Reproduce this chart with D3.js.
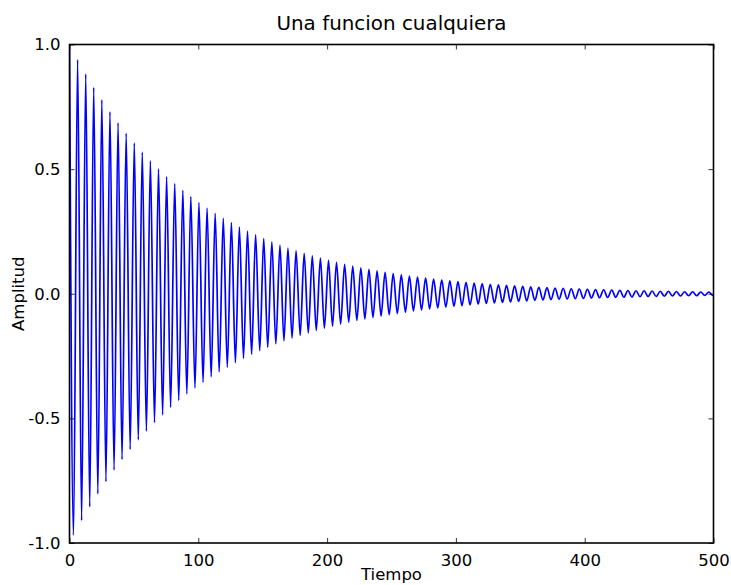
<!DOCTYPE html>
<html>
<head>
<meta charset="utf-8">
<script src="https://cdn.jsdelivr.net/npm/d3@7"></script>
<style>
  html, body { margin: 0; padding: 0; background: #fff; }
  svg text { font-family: "DejaVu Sans", sans-serif; fill: #000; }
</style>
</head>
<body>
<svg id="chart" width="731" height="585"></svg>
<script>
// Local extrema of the damped oscillation: time and amplitude of each peak / trough
const extremaTime = [
  0, 3.1, 6.3, 9.4, 12.6, 15.7, 18.8, 22.0, 25.1, 28.3,
  31.4, 34.6, 37.7, 40.8, 44.0, 47.1, 50.3, 53.4, 56.5, 59.7,
  62.8, 66.0, 69.1, 72.3, 75.4, 78.5, 81.7, 84.8, 88.0, 91.1,
  94.2, 97.4, 100.5, 103.7, 106.8, 110.0, 113.1, 116.2, 119.4, 122.5,
  125.7, 128.8, 131.9, 135.1, 138.2, 141.4, 144.5, 147.7, 150.8, 153.9,
  157.1, 160.2, 163.4, 166.5, 169.6, 172.8, 175.9, 179.1, 182.2, 185.4,
  188.5, 191.6, 194.8, 197.9, 201.1, 204.2, 207.3, 210.5, 213.6, 216.8,
  219.9, 223.1, 226.2, 229.3, 232.5, 235.6, 238.8, 241.9, 245.0, 248.2,
  251.3, 254.5, 257.6, 260.8, 263.9, 267.0, 270.2, 273.3, 276.5, 279.6,
  282.7, 285.9, 289.0, 292.2, 295.3, 298.5, 301.6, 304.7, 307.9, 311.0,
  314.2, 317.3, 320.4, 323.6, 326.7, 329.9, 333.0, 336.2, 339.3, 342.4,
  345.6, 348.7, 351.9, 355.0, 358.1, 361.3, 364.4, 367.6, 370.7, 373.8,
  377.0, 380.1, 383.3, 386.4, 389.6, 392.7, 395.8, 399.0, 402.1, 405.3,
  408.4, 411.5, 414.7, 417.8, 421.0, 424.1, 427.3, 430.4, 433.5, 436.7,
  439.8, 443.0, 446.1, 449.2, 452.4, 455.5, 458.7, 461.8, 465.0, 468.1,
  471.2, 474.4, 477.5, 480.7, 483.8, 486.9, 490.1, 493.2, 496.4, 499.5,
  500
];
const extremaValue = [
  1.000, -0.969, 0.939, -0.910, 0.882, -0.855, 0.828, -0.803, 0.778, -0.754,
  0.730, -0.708, 0.686, -0.665, 0.644, -0.624, 0.605, -0.586, 0.568, -0.551,
  0.533, -0.517, 0.501, -0.486, 0.470, -0.456, 0.442, -0.428, 0.415, -0.402,
  0.390, -0.378, 0.366, -0.355, 0.344, -0.333, 0.323, -0.313, 0.303, -0.294,
  0.285, -0.276, 0.267, -0.259, 0.251, -0.243, 0.236, -0.228, 0.221, -0.215,
  0.208, -0.201, 0.195, -0.189, 0.183, -0.178, 0.172, -0.167, 0.162, -0.157,
  0.152, -0.147, 0.143, -0.138, 0.134, -0.130, 0.126, -0.122, 0.118, -0.114,
  0.111, -0.107, 0.104, -0.101, 0.098, -0.095, 0.092, -0.089, 0.086, -0.084,
  0.081, -0.079, 0.076, -0.074, 0.071, -0.069, 0.067, -0.065, 0.063, -0.061,
  0.059, -0.057, 0.056, -0.054, 0.052, -0.051, 0.049, -0.048, 0.046, -0.045,
  0.043, -0.042, 0.041, -0.039, 0.038, -0.037, 0.036, -0.035, 0.034, -0.033,
  0.032, -0.031, 0.030, -0.029, 0.028, -0.027, 0.026, -0.025, 0.025, -0.024,
  0.023, -0.022, 0.022, -0.021, 0.020, -0.020, 0.019, -0.019, 0.018, -0.017,
  0.017, -0.016, 0.016, -0.015, 0.015, -0.014, 0.014, -0.014, 0.013, -0.013,
  0.012, -0.012, 0.012, -0.011, 0.011, -0.011, 0.010, -0.010, 0.010, -0.009,
  0.009, -0.009, 0.008, -0.008, 0.008, -0.008, 0.007, -0.007, 0.007, -0.007,
  -0.006
];

const xTicks = [0, 100, 200, 300, 400, 500];
const yTicks = [-1.0, -0.5, 0.0, 0.5, 1.0];
const xDomain = [0, 500];
const yDomain = [-1, 1];

const titleText = "Una funcion cualquiera";
const xLabelText = "Tiempo";
const yLabelText = "Amplitud";

// Layout
const W = 731, H = 585;
const margin = { left: 69.5, right: 17.5, top: 44.5, bottom: 42 };
const innerW = W - margin.left - margin.right;
const innerH = H - margin.top - margin.bottom;

const svg = d3.select("#chart");
const g = svg.append("g").attr("transform", `translate(${margin.left},${margin.top})`);

const x = d3.scaleLinear().domain(xDomain).range([0, innerW]);
const y = d3.scaleLinear().domain(yDomain).range([innerH, 0]);

const points = extremaTime.map((t, i) => ({ t, v: extremaValue[i] }));

// Signal curve, clipped to the plotting area
svg.append("defs").append("clipPath").attr("id", "plotClip")
  .append("rect").attr("x", 0).attr("y", -2).attr("width", innerW).attr("height", innerH + 4);

const line = d3.line()
  .x(d => x(d.t))
  .y(d => y(d.v))
  .curve(d3.curveMonotoneX);

g.append("path")
  .datum(points)
  .attr("clip-path", "url(#plotClip)")
  .attr("fill", "none")
  .attr("stroke", "#0000ff")
  .attr("stroke-width", 1.7)
  .attr("stroke-linejoin", "round")
  .attr("d", line);

// Inward ticks on all four sides
const tickLen = 5;
function styleAxis(sel) {
  sel.select(".domain").remove();
  sel.selectAll(".tick line").attr("stroke", "#000").attr("stroke-width", 0.8);
  sel.selectAll(".tick text")
    .style("font-family", "'DejaVu Sans', sans-serif")
    .style("font-size", "16.5px")
    .attr("fill", "#000");
}

const xBottom = g.append("g")
  .attr("transform", `translate(0,${innerH})`)
  .call(d3.axisBottom(x).tickValues(xTicks).tickSize(-tickLen).tickPadding(11).tickFormat(d3.format("d")));
styleAxis(xBottom);

const xTop = g.append("g")
  .call(d3.axisTop(x).tickValues(xTicks).tickSize(-tickLen).tickFormat(""));
styleAxis(xTop);

const yLeft = g.append("g")
  .call(d3.axisLeft(y).tickValues(yTicks).tickSize(-tickLen).tickPadding(9).tickFormat(d => d3.format(".1f")(d).replace("−", "-")));
styleAxis(yLeft);

const yRight = g.append("g")
  .attr("transform", `translate(${innerW},0)`)
  .call(d3.axisRight(y).tickValues(yTicks).tickSize(-tickLen).tickFormat(""));
styleAxis(yRight);

// Frame
g.append("rect")
  .attr("x", 0).attr("y", 0)
  .attr("width", innerW).attr("height", innerH)
  .attr("fill", "none")
  .attr("stroke", "#000")
  .attr("stroke-width", 1.6);

// Title and axis labels
svg.append("text")
  .attr("x", margin.left + innerW / 2)
  .attr("y", 30)
  .attr("text-anchor", "middle")
  .style("font-size", "19.9px")
  .text(titleText);

svg.append("text")
  .attr("x", margin.left + innerW / 2)
  .attr("y", 580)
  .attr("text-anchor", "middle")
  .style("font-size", "16.5px")
  .text(xLabelText);

svg.append("text")
  .attr("transform", `translate(24,${margin.top + innerH / 2}) rotate(-90)`)
  .attr("text-anchor", "middle")
  .style("font-size", "16.5px")
  .text(yLabelText);
</script>
</body>
</html>
